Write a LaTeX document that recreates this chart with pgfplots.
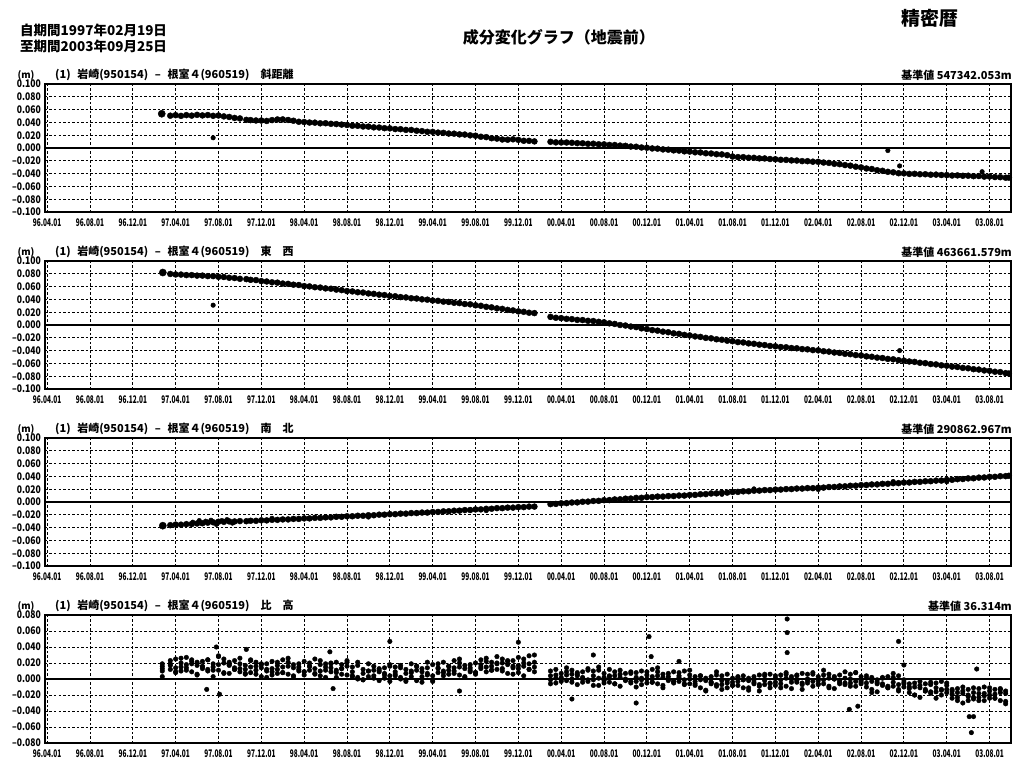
\documentclass[border=0pt]{standalone}
\usepackage{fontspec}
\usepackage{graphicx}
\usepackage{pgfplots}
\usepackage{pgfplotstable}
\pgfplotsset{compat=1.18}
\setmainfont{Noto Sans CJK JP}
\newfontfamily\jp{Noto Sans CJK JP}
\newfontfamily\jpx{Noto Sans CJK JP}[FakeStretch=0.62]
\newfontfamily\jpy{Noto Sans CJK JP}[FakeStretch=0.82]

\pgfplotsset{
  panel/.style={
    at={(45pt,#1)}, anchor=north west,
    width=966pt, height=128pt, scale only axis,
    xmin=-0.2, xmax=90,
    xtick={0,4,...,88},
    xticklabels={96.04.01,96.08.01,96.12.01,97.04.01,97.08.01,97.12.01,98.04.01,98.08.01,98.12.01,99.04.01,99.08.01,99.12.01,00.04.01,00.08.01,00.12.01,01.04.01,01.08.01,01.12.01,02.04.01,02.08.01,02.12.01,03.04.01,03.08.01},
    major tick length=0pt,
    grid=major,
    major grid style={black, line width=0.85pt, dash pattern=on 2.5pt off 2pt},
    axis line style={black, line width=1.6pt},
    xticklabel style={font=\jpx\bfseries\fontsize{10.5}{10.5}\selectfont, anchor=north, inner sep=0pt, yshift=-7pt},
    yticklabel style={font=\jpy\bfseries\fontsize{10.5}{10.5}\selectfont, anchor=east, inner sep=0pt, xshift=-4pt},
  },
  p100/.style={ymin=-100, ymax=100, ytick={-100,-80,...,100},
    yticklabels={–0.100,–0.080,–0.060,–0.040,–0.020,0.000,0.020,0.040,0.060,0.080,0.100}},
  p80/.style={ymin=-80, ymax=80, ytick={-80,-60,...,80},
    yticklabels={–0.080,–0.060,–0.040,–0.020,0.000,0.020,0.040,0.060,0.080}},
  dots/.style={only marks, mark=*, mark size=3.0pt, black},
  sdots/.style={only marks, mark=*, mark size=2.3pt, black},
  bdot/.style={only marks, mark=*, mark size=3.6pt, black},
}

\begin{document}
\pgfplotstableread{
m a b c d
11.5 23 12 17 19
12.0 14 25 8 9
12.5 20 15 10 26
13.0 27 11 18 14
13.5 9 19 24 22
14.0 17 6 21 5
14.5 22 13 15 16
15.0 12 24 10 24
15.5 19 15 3 11
16.0 28 11 18 29
16.5 8 20 25 7
17.0 17 7 21 18
17.5 23 12 14 12
18.0 13 26 9 19
18.5 17 12 7 6
19.0 24 8 15 23
19.5 6 16 21 11
20.0 14 3 18 19
20.5 19 10 12 2
21.0 9 22 5 13
21.5 17 12 7 21
22.0 24 8 15 8
22.5 6 16 21 26
23.0 14 3 18 4
23.5 19 10 12 15
24.0 9 22 5 9
24.5 16 11 20 16
25.0 25 7 13 6
25.5 10 18 4 23
26.0 15 2 19 11
26.5 20 9 14 19
27.0 8 21 11 2
27.5 18 13 6 13
28.0 23 5 16 21
28.5 15 4 9 3
29.0 2 17 0 21
29.5 12 7 -1 -1
30.0 19 3 10 10
30.5 1 11 16 4
31.0 9 -2 13 11
31.5 14 5 7 1
32.0 4 16 -3 18
32.5 15 4 9 6
33.0 2 17 0 14
33.5 12 7 -1 -3
34.0 19 3 10 8
34.5 -2 11 16 16
35.0 9 -4 13 3
35.5 14 5 7 21
36.0 4 18 -3 -1
36.5 19 8 13 14
37.0 10 21 4 8
37.5 16 11 6 16
38.0 23 7 14 10
38.5 5 15 20 25
39.0 13 2 17 3
39.5 18 9 11 14
40.0 8 20 6 8
40.5 24 13 18 15
41.0 15 26 9 22
41.5 21 16 11 11
42.0 28 12 19 20
42.5 10 20 25 13
43.0 18 7 22 23
43.5 23 14 16 6
44.0 13 27 8 17
44.5 20 16 4 25
45.0 29 12 19 12
45.5 9 21 15 30
47.0 10 -1 4 -6
47.5 1 12 -5 5
48.0 7 2 -3 -1
48.5 14 -2 5 9
49.0 -4 6 11 0
49.5 4 -7 8 6
50.0 9 0 2 -4
50.5 -1 11 -3 13
51.0 10 -1 4 -8
51.5 1 15 -8 11
52.0 7 2 -5 -2
52.5 12 -4 3 4
53.0 -6 4 9 -6
53.5 2 -9 6 11
54.0 7 -2 0 -1
54.5 -3 9 -5 7
55.0 8 -3 2 -10
55.5 -1 10 -7 1
56.0 5 0 -5 9
56.5 12 -4 3 -4
57.0 -6 4 9 14
57.5 2 -11 6 -8
58.0 7 -2 0 3
58.5 -3 9 -5 -3
59.0 8 -3 2 4
59.5 -1 10 -7 -6
60.0 5 0 -6 11
60.5 3 -8 -3 -6
61.0 -11 -1 4 4
61.5 -2 -14 1 -15
62.0 3 -6 -4 -4
62.5 -7 5 -9 9
63.0 4 -7 -2 -13
63.5 -5 6 -11 -2
64.0 1 -4 -8 -8
64.5 3 -8 -3 2
65.0 -11 -1 4 -1
65.5 -2 -14 1 -11
66.0 3 -6 -4 -1
66.5 -7 5 -9 -15
67.0 4 -7 -2 6
67.5 -5 6 -11 -6
68.0 1 -4 -8 4
68.5 5 -6 -1 -11
69.0 -9 1 6 8
69.5 0 -12 3 -4
70.0 5 -4 -2 4
70.5 -5 7 -7 -13
71.0 6 -5 0 -2
71.5 -3 8 -9 6
72.0 3 -2 -6 -7
72.5 5 -6 -1 11
73.0 -9 1 6 -11
73.5 0 -12 3 0
74.0 5 -4 -2 -6
74.5 -5 9 -7 1
75.0 6 -5 0 -9
75.5 -3 8 -9 8
76.0 3 -2 -6 -4
76.5 1 -10 -5 4
77.0 -13 -3 2 -17
77.5 -4 -16 -1 -6
78.0 1 -8 -6 2
78.5 -9 3 -11 -11
79.0 2 -9 -4 7
79.5 -7 4 -13 -15
80.0 -1 -6 -10 -4
80.5 -6 -17 -12 -10
81.0 -20 -10 -5 -20
81.5 -11 -23 -8 -3
82.0 -6 -15 -13 -15
82.5 -16 -4 -18 -7
83.0 -5 -16 -11 -24
83.5 -14 -3 -20 -13
84.0 -8 -13 -17 -5
84.5 -13 -24 -19 -15
85.0 -27 -17 -12 -23
85.5 -18 -30 -15 -10
86.0 -13 -22 -20 -27
86.5 -23 -11 -25 -17
87.0 -12 -23 -18 -27
87.5 -21 -10 -27 -18
88.0 -15 -20 -24 -11
88.5 -13 -24 -19 -24
89.0 -27 -17 -12 -13
89.5 -18 -28 -15 -31
}\tabH
\begin{tikzpicture}
\useasboundingbox (0,0) rectangle (1013pt,-761pt);

% header texts
\node[anchor=west, font=\jp\bfseries\fontsize{13.5}{13.5}\selectfont, inner sep=0pt] at (20pt,-30pt) {自期間1997年02月19日};
\node[anchor=west, font=\jp\bfseries\fontsize{13.5}{13.5}\selectfont, inner sep=0pt] at (20pt,-46pt) {至期間2003年09月25日};
\node[anchor=east, font=\jp\bfseries\fontsize{16}{16}\selectfont, inner sep=0pt] at (655pt,-37pt) {成分変化グラフ（地震前）};
\node[anchor=center, font=\jp\bfseries\fontsize{19}{19}\selectfont, inner sep=0pt] at (930pt,-18pt) {精密暦};

% panel titles
\foreach \t/\nm/\bv in {84/斜距離/547342.053m, 261/東\hspace{1em}西/463661.579m, 438/南\hspace{1em}北/290862.967m, 615/比\hspace{1em}高/36.314m}{
  \node[anchor=center, font=\jp\bfseries\fontsize{9.5}{9.5}\selectfont, inner sep=0pt] at (26pt,-\t pt+9pt) {(m)};
  \node[anchor=west, font=\jp\bfseries\fontsize{11}{11}\selectfont, inner sep=0pt] at (55pt,-\t pt+9pt) {(1)\hspace{0.6em}岩崎(950154)\hspace{0.6em}–\hspace{0.6em}根室４(960519)\hspace{1em}\nm};
  \node[anchor=east, font=\jp\bfseries\fontsize{11}{11}\selectfont, inner sep=0pt] at (1012pt,-\t pt+9pt) {基準値 \bv};
}

% ---------- panel 1 : slope distance
\begin{axis}[panel={-84pt}, p100]
\addplot[black, line width=1.7pt, forget plot] coordinates {(-0.2,0) (90,0)};
\addplot[dots] coordinates {
(11.5,50.5)(12,51.3)(12.5,50.2)(13,51.4)(13.5,50.6)(14,51.8)(14.5,50.9)(15,51.5)(15.5,50.3)(16,50.8)(16.5,49.4)(17,48.5)(17.5,47.0)(18,46.2)
(18.6,44.0)(19,43.6)(19.5,43.0)(20,42.9)(20.5,42.3)(21,43.6)(21.5,44.6)(22,44.7)(22.5,43.8)(23,42.6)(23.5,41.0)(24,40.6)(24.5,39.8)(25,39.6)(25.5,38.6)(26,38.7)(26.5,37.8)(27,37.4)(27.5,36.6)(28,36.0)(28.5,34.8)(29,34.7)(29.5,33.6)(30,33.4)(30.5,32.3)(31,32.0)(31.5,31.0)(32,30.7)(32.5,29.6)(33,29.4)(33.5,28.3)(34,28.2)(34.5,27.0)(35,26.4)(35.5,25.3)(36,25.2)(36.5,24.1)(37,23.7)(37.5,22.6)(38,22.4)(38.5,21.3)(39,21.0)(39.5,19.8)(40,19.2)(40.5,17.6)(41,17.0)(41.5,15.3)(42,14.7)(42.5,13.3)(43,13.0)(43.5,13.6)(44,12.7)(44.5,11.3)(45,11.2)(45.5,10.3)
(47,9.7)(47.5,8.8)(48,8.7)(48.5,8.6)(49,8.2)(49.5,7.6)(50,7.4)(50.5,6.6)(51,6.7)(51.5,5.8)(52,5.7)(52.5,4.8)(53,4.7)(53.5,3.8)(54,3.4)(54.5,2.3)(55,2.0)(55.5,0.8)(56,0.4)(56.5,-0.7)(57,-1.0)(57.5,-2.2)(58,-2.6)(58.5,-3.7)(59,-4.0)(59.5,-5.2)(60,-5.6)(60.5,-6.7)(61,-7.0)(61.5,-8.2)(62,-8.6)(62.5,-9.7)(63,-10.0)(63.5,-11.2)(64,-13.3)(64.5,-14.2)(65,-14.3)(65.5,-15.2)(66,-15.3)(66.5,-16.2)(67,-16.3)(67.5,-17.2)(68,-17.6)(68.5,-18.4)(69,-18.6)(69.5,-19.4)(70,-19.6)(70.5,-20.5)(71,-20.6)(71.5,-21.4)(72,-21.6)(72.5,-22.7)(73,-23.3)(73.5,-24.7)(74,-25.3)(74.5,-26.7)(75,-27.6)(75.5,-29.2)(76,-30.3)(76.5,-32.0)(77,-32.8)(77.5,-34.7)(78,-35.6)(78.5,-37.2)(79,-38.0)(79.5,-39.4)(80,-39.6)(80.5,-40.4)(81,-40.3)(81.5,-41.0)(82,-41.0)(82.5,-41.7)(83,-41.6)(83.5,-42.2)(84,-42.3)(84.5,-43.0)(85,-42.8)(85.5,-43.4)(86,-43.3)(86.5,-44.0)(87,-43.8)(87.5,-44.7)(88,-44.6)(88.5,-45.4)(89,-45.6)(89.5,-46.4)(89.8,-46.3)};
\addplot[sdots] coordinates {(15.5,16)(78.5,-4)(79.6,-28)(87.3,-37)};
\addplot[bdot] coordinates {(10.7,53.5)};
\end{axis}

% ---------- panel 2 : east-west
\begin{axis}[panel={-261pt}, p100]
\addplot[black, line width=1.7pt, forget plot] coordinates {(-0.2,0) (90,0)};
\addplot[dots] coordinates {
(11.5,79.8)(12,79.0)(12.5,78.8)(13,78.0)(13.5,78.0)(14,77.2)(14.5,77.2)(15,76.4)(15.5,76.4)(16,75.3)(16.5,75.0)(17,73.8)(17.5,73.4)(18,72.2)
(18.6,71.7)(19,70.6)(19.5,70.2)(20,68.6)(20.5,68.0)(21,66.7)(21.5,66.2)(22,64.8)(22.5,64.3)(23,63.0)(23.5,62.5)(24,60.8)(24.5,60.3)(25,59.0)(25.5,58.5)(26,57.2)(26.5,56.7)(27,55.3)(27.5,54.5)(28,53.0)(28.5,52.5)(29,51.2)(29.5,50.7)(30,49.3)(30.5,48.7)(31,47.4)(31.5,46.8)(32,45.3)(32.5,44.9)(33,43.6)(33.5,43.1)(34,41.8)(34.5,41.4)(35,40.1)(35.5,39.6)(36,38.3)(36.5,37.8)(37,36.5)(37.5,36.0)(38,34.7)(38.5,34.2)(39,32.8)(39.5,32.3)(40,30.8)(40.5,30.0)(41,28.4)(41.5,27.6)(42,26.0)(42.5,25.2)(43,23.6)(43.5,22.8)(44,21.3)(44.5,20.6)(45,19.2)(45.5,18.6)
(47,12.7)(47.5,11.3)(48,10.7)(48.5,9.6)(49,9.2)(49.5,8.0)(50,7.7)(50.5,6.6)(51,6.2)(51.5,5.0)(52,4.2)(52.5,2.6)(53,1.7)(53.5,0.0)(54,-0.8)(54.5,-2.4)(55,-3.3)(55.5,-5.2)(56,-6.3)(56.5,-8.0)(57,-8.8)(57.5,-10.4)(58,-11.3)(58.5,-13.0)(59,-13.8)(59.5,-15.4)(60,-16.3)(60.5,-17.8)(61,-18.6)(61.5,-20.1)(62,-20.8)(62.5,-22.3)(63,-23.0)(63.5,-24.5)(64,-25.3)(64.5,-26.7)(65,-27.3)(65.5,-28.7)(66,-29.3)(66.5,-30.7)(67,-31.3)(67.5,-32.7)(68,-33.3)(68.5,-34.4)(69,-34.8)(69.5,-36.0)(70,-36.4)(70.5,-37.6)(71,-38.0)(71.5,-39.2)(72,-39.6)(72.5,-41.0)(73,-41.6)(73.5,-43.0)(74,-43.6)(74.5,-45.0)(75,-45.6)(75.5,-47.0)(76,-47.6)(76.5,-49.0)(77,-49.6)(77.5,-51.0)(78,-51.6)(78.5,-53.0)(79,-53.6)(79.5,-55.0)(80,-55.6)(80.5,-57.0)(81,-57.6)(81.5,-59.0)(82,-59.6)(82.5,-61.0)(83,-61.6)(83.5,-63.0)(84,-63.6)(84.5,-65.0)(85,-65.6)(85.5,-67.0)(86,-67.6)(86.5,-69.0)(87,-69.6)(87.5,-71.0)(88,-71.6)(88.5,-73.0)(89,-73.6)(89.5,-75.2)(89.8,-75.8)};
\addplot[sdots] coordinates {(15.5,31)(79.6,-40)};
\addplot[bdot] coordinates {(10.8,82)};
\end{axis}

% ---------- panel 3 : north-south
\begin{axis}[panel={-438pt}, p100]
\addplot[black, line width=1.7pt, forget plot] coordinates {(-0.2,0) (90,0)};
\addplot[dots] coordinates {
(11.5,-36.2)(12,-35.3)(12.5,-35.4)(13,-34.6)(13.5,-34.4)(14,-33.6)(14.5,-33.2)(15,-32.3)(15.5,-31.7)(16,-30.8)(16.5,-31.0)(17,-30.3)(17.5,-30.4)(18,-29.8)
(18.6,-30.0)(19,-29.3)(19.5,-29.4)(20,-28.6)(20.5,-28.7)(21,-27.8)(21.5,-27.9)(22,-27.2)(22.5,-27.2)(23,-26.4)(23.5,-26.4)(24,-25.6)(24.5,-25.6)(25,-24.8)(25.5,-24.8)(26,-24.0)(26.5,-24.0)(27,-23.1)(27.5,-23.1)(28,-22.3)(28.5,-22.3)(29,-21.5)(29.5,-21.5)(30,-20.7)(30.5,-20.7)(31,-19.8)(31.5,-19.8)(32,-19.0)(32.5,-19.0)(33,-18.2)(33.5,-18.2)(34,-17.3)(34.5,-17.3)(35,-16.5)(35.5,-16.5)(36,-15.6)(36.5,-15.5)(37,-14.6)(37.5,-14.5)(38,-13.6)(38.5,-13.5)(39,-12.6)(39.5,-12.5)(40,-11.6)(40.5,-11.5)(41,-10.6)(41.5,-10.5)(42,-9.6)(42.5,-9.6)(43,-8.8)(43.5,-8.8)(44,-8.0)(44.5,-8.0)(45,-7.2)(45.5,-7.2)
(47,-3.3)(47.5,-3.0)(48,-2.0)(48.5,-1.8)(49,-0.8)(49.5,-0.6)(50,0.4)(50.5,0.6)(51,1.6)(51.5,1.8)(52,2.8)(52.5,3.0)(53,4.0)(53.5,4.2)(54,5.2)(54.5,5.4)(55,6.4)(55.5,6.6)(56,7.6)(56.5,7.7)(57,8.5)(57.5,8.5)(58,9.3)(58.5,9.3)(59,10.1)(59.5,10.1)(60,11.0)(60.5,11.1)(61,12.1)(61.5,12.3)(62,13.3)(62.5,13.5)(63,14.5)(63.5,14.7)(64,15.7)(64.5,15.8)(65,16.7)(65.5,16.8)(66,17.7)(66.5,17.8)(67,18.6)(67.5,18.6)(68,19.4)(68.5,19.4)(69,20.2)(69.5,20.2)(70,21.0)(70.5,21.0)(71,21.7)(71.5,21.6)(72,22.4)(72.5,22.5)(73,23.4)(73.5,23.5)(74,24.4)(74.5,24.5)(75,25.4)(75.5,25.5)(76,26.4)(76.5,26.5)(77,27.4)(77.5,27.5)(78,28.4)(78.5,28.5)(79,29.4)(79.5,29.5)(80,30.4)(80.5,30.5)(81,31.4)(81.5,31.5)(82,32.4)(82.5,32.5)(83,33.4)(83.5,33.5)(84,34.5)(84.5,34.7)(85,35.7)(85.5,35.9)(86,36.9)(86.5,37.1)(87,38.1)(87.5,38.3)(88,39.3)(88.5,39.4)(89,40.3)(89.5,40.4)(89.8,41.0)};
\addplot[sdots] coordinates {(13.6,-31.5)(14.2,-29.0)(14.8,-30.0)(15.3,-28.5)(15.8,-35.0)(16.3,-29.0)(16.8,-27.5)(17.3,-33.0)(21,-25.5)(30,-23.5)(41,-13.5)(63,12)(66,20.5)(72,19.5)(79,32)(84,31.5)};
\addplot[bdot] coordinates {(10.8,-37)};
\end{axis}

% ---------- panel 4 : height difference
\begin{axis}[panel={-615pt}, p80]
\addplot[black, line width=1.7pt, forget plot] coordinates {(-0.2,0) (90,0)};
\addplot[sdots] table[x=m, y=a] {\tabH};
\addplot[sdots] table[x=m, y=b] {\tabH};
\addplot[sdots] table[x=m, y=c] {\tabH};
\addplot[sdots] table[x=m, y=d] {\tabH};
\addplot[sdots] coordinates {(10.75,19)(10.75,16)(10.75,13)(10.75,10)(10.75,3)
(15.8,40)(16.1,-19)(14.9,-13)(18.6,37)(26.4,34)(26.7,-12)(32,47)(44,46)(56.2,53)(56.4,28)
(69.1,75)(69.1,58)(69.1,33)(79.5,47)(80,17.5)(86.8,12.5)(86.3,-67)(86.1,-47)(86.5,-47)
(74.9,-38)(75.7,-34)(59,22)(55,-30)(49,-25)(51,30)(38.5,-15)};
\end{axis}
\end{tikzpicture}
\end{document}
